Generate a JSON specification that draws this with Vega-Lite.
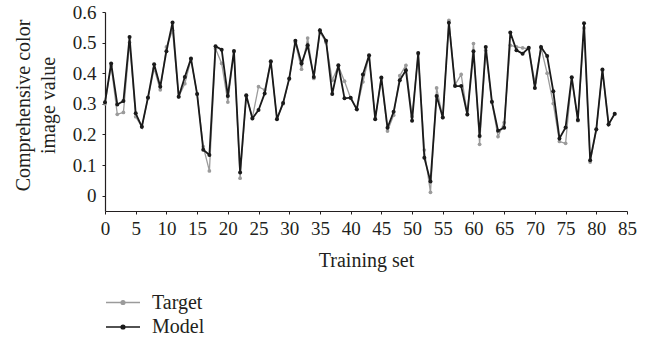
{
  "$schema": "https://vega.github.io/schema/vega-lite/v6.json",
  "width": 522,
  "height": 199,
  "autosize": {"type": "none"},
  "padding": {"left": 105, "top": 12, "right": 28, "bottom": 127},
  "background": "white",
  "config": {
    "view": {"stroke": null},
    "font": "Liberation Serif",
    "axis": {"labelFont": "Liberation Serif", "titleFont": "Liberation Serif", "labelFontSize": 19, "titleFontSize": 20, "titleFontWeight": "normal", "labelColor": "#231f20", "titleColor": "#231f20", "domainColor": "#231f20", "tickColor": "#231f20", "grid": false, "tickSize": 3, "domainWidth": 1.2},
    "legend": {"labelFont": "Liberation Serif", "labelFontSize": 20, "labelColor": "#231f20"}
  },
  "data": {
    "values": [
      {"x": 0, "Model": 0.305, "Target": 0.300},
      {"x": 1, "Model": 0.432, "Target": 0.425},
      {"x": 2, "Model": 0.298, "Target": 0.266},
      {"x": 3, "Model": 0.309, "Target": 0.272},
      {"x": 4, "Model": 0.518, "Target": 0.500},
      {"x": 5, "Model": 0.269, "Target": 0.258},
      {"x": 6, "Model": 0.225, "Target": 0.225},
      {"x": 7, "Model": 0.321, "Target": 0.318},
      {"x": 8, "Model": 0.429, "Target": 0.415},
      {"x": 9, "Model": 0.356, "Target": 0.346},
      {"x": 10, "Model": 0.472, "Target": 0.486},
      {"x": 11, "Model": 0.566, "Target": 0.540},
      {"x": 12, "Model": 0.323, "Target": 0.323},
      {"x": 13, "Model": 0.388, "Target": 0.366},
      {"x": 14, "Model": 0.448, "Target": 0.445},
      {"x": 15, "Model": 0.332, "Target": 0.332},
      {"x": 16, "Model": 0.150, "Target": 0.160},
      {"x": 17, "Model": 0.133, "Target": 0.081},
      {"x": 18, "Model": 0.488, "Target": 0.480},
      {"x": 19, "Model": 0.477, "Target": 0.432},
      {"x": 20, "Model": 0.326, "Target": 0.306},
      {"x": 21, "Model": 0.473, "Target": 0.470},
      {"x": 22, "Model": 0.076, "Target": 0.057},
      {"x": 23, "Model": 0.328, "Target": 0.325},
      {"x": 24, "Model": 0.252, "Target": 0.255},
      {"x": 25, "Model": 0.280, "Target": 0.356},
      {"x": 26, "Model": 0.334, "Target": 0.345},
      {"x": 27, "Model": 0.439, "Target": 0.436},
      {"x": 28, "Model": 0.250, "Target": 0.252},
      {"x": 29, "Model": 0.303, "Target": 0.300},
      {"x": 30, "Model": 0.383, "Target": 0.380},
      {"x": 31, "Model": 0.506, "Target": 0.500},
      {"x": 32, "Model": 0.432, "Target": 0.413},
      {"x": 33, "Model": 0.491, "Target": 0.515},
      {"x": 34, "Model": 0.388, "Target": 0.383},
      {"x": 35, "Model": 0.540, "Target": 0.535},
      {"x": 36, "Model": 0.506, "Target": 0.500},
      {"x": 37, "Model": 0.332, "Target": 0.377},
      {"x": 38, "Model": 0.426, "Target": 0.424},
      {"x": 39, "Model": 0.318, "Target": 0.374},
      {"x": 40, "Model": 0.320, "Target": 0.318},
      {"x": 41, "Model": 0.282, "Target": 0.282},
      {"x": 42, "Model": 0.396, "Target": 0.372},
      {"x": 43, "Model": 0.459, "Target": 0.456},
      {"x": 44, "Model": 0.250, "Target": 0.252},
      {"x": 45, "Model": 0.386, "Target": 0.384},
      {"x": 46, "Model": 0.222, "Target": 0.211},
      {"x": 47, "Model": 0.274, "Target": 0.263},
      {"x": 48, "Model": 0.377, "Target": 0.392},
      {"x": 49, "Model": 0.410, "Target": 0.426},
      {"x": 50, "Model": 0.245, "Target": 0.258},
      {"x": 51, "Model": 0.466, "Target": 0.463},
      {"x": 52, "Model": 0.124, "Target": 0.149},
      {"x": 53, "Model": 0.046, "Target": 0.011},
      {"x": 54, "Model": 0.326, "Target": 0.352},
      {"x": 55, "Model": 0.255, "Target": 0.255},
      {"x": 56, "Model": 0.565, "Target": 0.573},
      {"x": 57, "Model": 0.358, "Target": 0.362},
      {"x": 58, "Model": 0.358, "Target": 0.396},
      {"x": 59, "Model": 0.265, "Target": 0.265},
      {"x": 60, "Model": 0.472, "Target": 0.497},
      {"x": 61, "Model": 0.195, "Target": 0.168},
      {"x": 62, "Model": 0.486, "Target": 0.475},
      {"x": 63, "Model": 0.307, "Target": 0.305},
      {"x": 64, "Model": 0.212, "Target": 0.193},
      {"x": 65, "Model": 0.222, "Target": 0.239},
      {"x": 66, "Model": 0.533, "Target": 0.491},
      {"x": 67, "Model": 0.475, "Target": 0.486},
      {"x": 68, "Model": 0.464, "Target": 0.483},
      {"x": 69, "Model": 0.483, "Target": 0.480},
      {"x": 70, "Model": 0.352, "Target": 0.370},
      {"x": 71, "Model": 0.486, "Target": 0.483},
      {"x": 72, "Model": 0.456, "Target": 0.400},
      {"x": 73, "Model": 0.341, "Target": 0.301},
      {"x": 74, "Model": 0.187, "Target": 0.177},
      {"x": 75, "Model": 0.223, "Target": 0.171},
      {"x": 76, "Model": 0.387, "Target": 0.385},
      {"x": 77, "Model": 0.247, "Target": 0.245},
      {"x": 78, "Model": 0.563, "Target": 0.548},
      {"x": 79, "Model": 0.116, "Target": 0.110},
      {"x": 80, "Model": 0.217, "Target": 0.215},
      {"x": 81, "Model": 0.412, "Target": 0.410},
      {"x": 82, "Model": 0.233, "Target": 0.232},
      {"x": 83, "Model": 0.268, "Target": 0.266}
    ]
  },
  "transform": [{"fold": ["Target", "Model"], "as": ["series", "value"]}],
  "encoding": {
    "x": {"field": "x", "type": "quantitative", "scale": {"domain": [0, 85], "nice": false, "zero": false},
      "axis": {"values": [0,5,10,15,20,25,30,35,40,45,50,55,60,65,70,75,80,85], "title": "Training set", "titlePadding": 12, "labelPadding": 5, "labelFlush": false}},
    "y": {"field": "value", "type": "quantitative", "scale": {"domain": [-0.05, 0.6], "nice": false, "zero": false},
      "axis": {"values": [0, 0.1, 0.2, 0.3, 0.4, 0.5, 0.6], "format": "~g", "title": ["Comprehensive color", "image value"], "titleLineHeight": 25, "titlePadding": 14, "titleY": 93, "labelPadding": 6}},
    "color": {"field": "series", "type": "nominal",
      "scale": {"domain": ["Target", "Model"], "range": ["#9b9b9b", "#1a1a1a"]},
      "legend": {"title": null, "orient": "none", "legendX": 7, "legendY": 279.5, "padding": 0, "rowPadding": 3.5, "labelOffset": 18,
        "symbolType": "M-1.7,0L1.7,0M0.19,0A0.19,0.19,0,1,1,-0.19,0A0.19,0.19,0,1,1,0.19,0Z",
        "symbolSize": 400, "symbolStrokeWidth": 1.4,
        "encode": {"symbols": {"update": {"fill": {"scale": "color", "field": "value"}, "stroke": {"scale": "color", "field": "value"}, "opacity": {"value": 1}}}}}
    }
  },
  "layer": [
    {"transform": [{"filter": "datum.series === 'Target'"}], "mark": {"type": "line", "strokeWidth": 1.3, "point": {"filled": true, "size": 14}}},
    {"transform": [{"filter": "datum.series === 'Model'"}], "mark": {"type": "line", "strokeWidth": 1.8, "point": {"filled": true, "size": 16}}}
  ]
}
